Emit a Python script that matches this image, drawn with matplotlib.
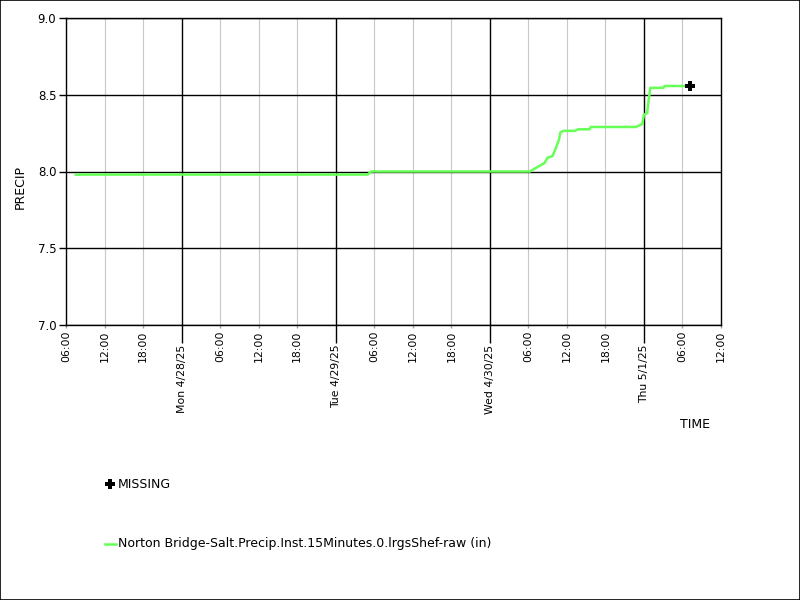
import matplotlib
matplotlib.use("Agg")
import matplotlib.pyplot as plt
import matplotlib.dates as mdates
from matplotlib.ticker import FuncFormatter, MultipleLocator
from datetime import datetime

times = ["2025-04-27 07:30", "2025-04-29 05:00", "2025-04-29 05:30", "2025-04-30 06:15",
         "2025-04-30 07:15", "2025-04-30 08:30", "2025-04-30 09:00", "2025-04-30 09:45",
         "2025-04-30 10:15", "2025-04-30 10:45", "2025-04-30 11:00", "2025-04-30 11:30",
         "2025-04-30 13:15", "2025-04-30 13:45", "2025-04-30 15:30", "2025-04-30 15:45",
         "2025-04-30 22:45", "2025-04-30 23:15", "2025-04-30 23:45", "2025-05-01 00:00",
         "2025-05-01 00:30", "2025-05-01 00:45", "2025-05-01 01:00", "2025-05-01 03:00",
         "2025-05-01 03:15", "2025-05-01 07:15"]
values = [7.98, 7.98, 8.00, 8.00,
          8.025, 8.055, 8.09, 8.10,
          8.15, 8.205, 8.255, 8.265,
          8.265, 8.275, 8.275, 8.29,
          8.29, 8.30, 8.31, 8.37,
          8.38, 8.47, 8.545, 8.545,
          8.557, 8.557]
missing_time = ["2025-05-01 07:15"]
missing_value = [8.557]

series_label = "Norton Bridge-Salt.Precip.Inst.15Minutes.0.lrgsShef-raw (in)"
y_label = "PRECIP"
x_label = "TIME"

t = [datetime.strptime(s, "%Y-%m-%d %H:%M") for s in times]
tm = [datetime.strptime(s, "%Y-%m-%d %H:%M") for s in missing_time]

plt.rcParams['font.family'] = ['DejaVu Sans']
fig = plt.figure(figsize=(8, 6), dpi=100)
fig.patch.set_facecolor('white')
fig.patches.append(plt.Rectangle((0.0006, 0.0008), 0.9988, 0.9984, transform=fig.transFigure,
                                 fill=False, edgecolor='black', linewidth=1.2))

ax = fig.add_axes([66/800, 1-325/600, (721-66)/800, (325-18)/600])
green = '#66ff55'
ax.plot(t, values, color=green, linewidth=1.8, solid_joinstyle='miter', zorder=3)
ax.plot(tm, missing_value, marker='P', color='black', markersize=6.5, linestyle='none', zorder=4,
        markeredgewidth=0)

ax.set_xlim(datetime(2025, 4, 27, 6, 0), datetime(2025, 5, 1, 12, 0))
ax.set_ylim(7.0, 9.0)

ax.xaxis.set_major_locator(mdates.DayLocator())
ax.xaxis.set_minor_locator(mdates.HourLocator(byhour=[6, 12, 18]))

def major_fmt(x, pos):
    d = mdates.num2date(x)
    return f"{d.strftime('%a')} {d.month}/{d.day}/{d.strftime('%y')}"

def minor_fmt(x, pos):
    d = mdates.num2date(x)
    return d.strftime('%H:%M')

ax.xaxis.set_major_formatter(FuncFormatter(major_fmt))
ax.xaxis.set_minor_formatter(FuncFormatter(minor_fmt))

ax.yaxis.set_major_locator(MultipleLocator(0.5))
ax.yaxis.set_major_formatter(FuncFormatter(lambda v, p: f"{v:.1f}"))

ax.grid(which='major', axis='both', color='black', linewidth=1)
ax.grid(which='minor', axis='x', color='#c8c8c8', linewidth=0.8)

ax.tick_params(axis='x', which='major', length=13, width=1, direction='out', labelsize=7.8,
               labelrotation=90, pad=1)
ax.tick_params(axis='x', which='minor', length=2.5, width=1, direction='out', labelsize=7.8,
               labelrotation=90, pad=1.5, color='#a0a0a0')
ax.tick_params(axis='y', which='major', length=5, width=1, direction='out', labelsize=8.5, pad=2)

for lbl in ax.get_xticklabels(which='both'):
    lbl.set_verticalalignment('top')

for sp in ax.spines.values():
    sp.set_linewidth(1)
    sp.set_color('black')

fig.text(20/800, 1-187/600, y_label, rotation=90, ha='center', va='center', fontsize=9)
fig.text(695/800, 1-424/600, x_label, ha='center', va='center', fontsize=9)

fig.lines.append(plt.Line2D([110/800], [1-484/600], marker='P', color='black', markersize=6.5,
                            markeredgewidth=0, transform=fig.transFigure))
fig.text(118/800, 1-484/600, "MISSING", ha='left', va='center', fontsize=9)
fig.lines.append(plt.Line2D([105/800, 116/800], [1-544/600, 1-544/600], color=green, linewidth=1.8,
                            transform=fig.transFigure))
fig.text(118/800, 1-544/600, series_label, ha='left', va='center', fontsize=9)

fig.savefig("out.png", dpi=100, facecolor='white')
